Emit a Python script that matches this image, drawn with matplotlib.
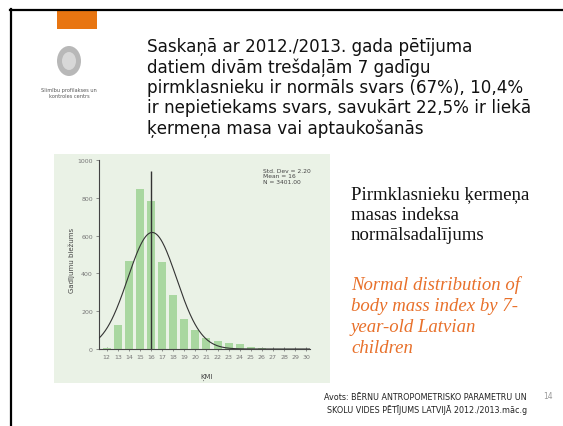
import numpy as np
import matplotlib
matplotlib.use("Agg")
import matplotlib.pyplot as plt
from matplotlib.patches import Rectangle, Ellipse
from matplotlib.lines import Line2D

# dati no attēla
kmi = list(range(12, 31))
skaits = [7, 128, 468, 847, 785, 460, 287, 157, 99, 58, 44, 33, 26, 9, 4, 2, 1, 1, 0]
vid = 16.1
std = 2.2
n = 3401
y_ticks = [0, 200, 400, 600, 800, 1000]

virsraksts = ("Saskaņā ar 2012./2013. gada pētījuma\n"
              "datiem divām trešdaļām 7 gadīgu\n"
              "pirmklasnieku ir normāls svars (67%), 10,4%\n"
              "ir nepietiekams svars, savukārt 22,5% ir liekā\n"
              "ķermeņa masa vai aptaukošanās")
apraksts_lv = "Pirmklasnieku ķermeņa\nmasas indeksa\nnormālsadalījums"
apraksts_en = "Normal distribution of\nbody mass index by 7-\nyear-old Latvian\nchildren"
avots = "Avots: BĒRNU ANTROPOMETRISKO PARAMETRU UN\nSKOLU VIDES PĒTĪJUMS LATVIJĀ 2012./2013.māc.g"

W, H = 563, 427
fig = plt.figure(figsize=(W / 100, H / 100), dpi=100)
fig.patch.set_facecolor("white")


def fx(px):
    return px / W


def fy(py):
    return 1 - py / H


# slaida rāmis
fig.add_artist(Line2D([fx(10), 1], [fy(11), fy(11)], color="black", lw=1.6))
fig.add_artist(Line2D([fx(11), fx(11)], [fy(10), 0], color="black", lw=1.6))
fig.add_artist(Rectangle((fx(57), fy(30)), fx(40), 19 / H, color="#e87511", lw=0))

# logo (vienkāršots)
fig.add_artist(Ellipse((fx(69), fy(62)), 24 / W, 30 / H, color="#b8b8b8", lw=0))
fig.add_artist(Ellipse((fx(69), fy(62)), 14 / W, 18 / H, color="#d8d8d8", lw=0))
fig.text(fx(69), fy(88), "Slimību profilakses un\nkontroles centrs", fontsize=3.6,
         color="#555555", ha="center", va="top", linespacing=1.3)

fig.text(fx(147), fy(38), virsraksts, fontsize=12.1, family="DejaVu Sans",
         color="#111111", ha="left", va="top", linespacing=1.15)

# diagrammas fons
fig.add_artist(Rectangle((fx(54), fy(384)), fx(276), (384 - 155) / H,
                         color="#eaf2e6", lw=0, zorder=-5))

ax = fig.add_axes([fx(99), fy(350), fx(211), (350 - 161) / H])
ax.set_facecolor("none")
ax.bar(kmi, skaits, width=0.72, color="#a9d7a0", zorder=2)
xs = np.linspace(11.3, 30.35, 300)
ax.plot(xs, n / (std * np.sqrt(2 * np.pi)) * np.exp(-(xs - vid) ** 2 / (2 * std ** 2)),
        color="#333333", lw=0.8, zorder=3)
ax.vlines(16, 0, 940, color="#333333", lw=1.0, zorder=3)
ax.set_xlim(11.3, 30.35)
ax.set_ylim(0, 1000)
ax.set_xticks(kmi)
ax.set_yticks(y_ticks)
for s in ["top", "right"]:
    ax.spines[s].set_visible(False)
for s in ["left", "bottom"]:
    ax.spines[s].set_color("#444444")
    ax.spines[s].set_linewidth(0.8)
ax.tick_params(axis="x", direction="inout", length=3, width=0.5, labelsize=4.5,
               labelcolor="#777777", color="#666666", pad=2)
ax.tick_params(axis="y", direction="out", length=2.5, width=0.5, labelsize=4.5,
               labelcolor="#777777", color="#666666", pad=2)
ax.text(0.775, 0.96, "Std. Dev = 2.20\nMean = 16\nN = 3401.00", transform=ax.transAxes,
        fontsize=4.3, color="#444444", ha="left", va="top", linespacing=1.2)

fig.text(fx(72), fy(260), "Gadījumu biežums", rotation=90, fontsize=5,
         color="#444444", ha="center", va="center")
fig.text(fx(207), fy(377), "ĶMI", fontsize=5, color="#444444", ha="center", va="center")

fig.text(fx(351), fy(186), apraksts_lv, fontsize=13.5, family="Liberation Serif",
         color="#111111", ha="left", va="top", linespacing=1.27)
fig.text(fx(351), fy(276), apraksts_en, fontsize=13.5, family="Liberation Serif",
         style="italic", color="#e8702a", ha="left", va="top", linespacing=1.3)

fig.text(fx(527), fy(393), avots, fontsize=5.8, family="DejaVu Sans", color="#222222",
         ha="right", va="top", linespacing=1.35)
fig.text(fx(548), fy(397), "14", fontsize=5.5, family="DejaVu Sans", color="#999999",
         ha="center", va="center")

fig.savefig("out.png", dpi=100)
